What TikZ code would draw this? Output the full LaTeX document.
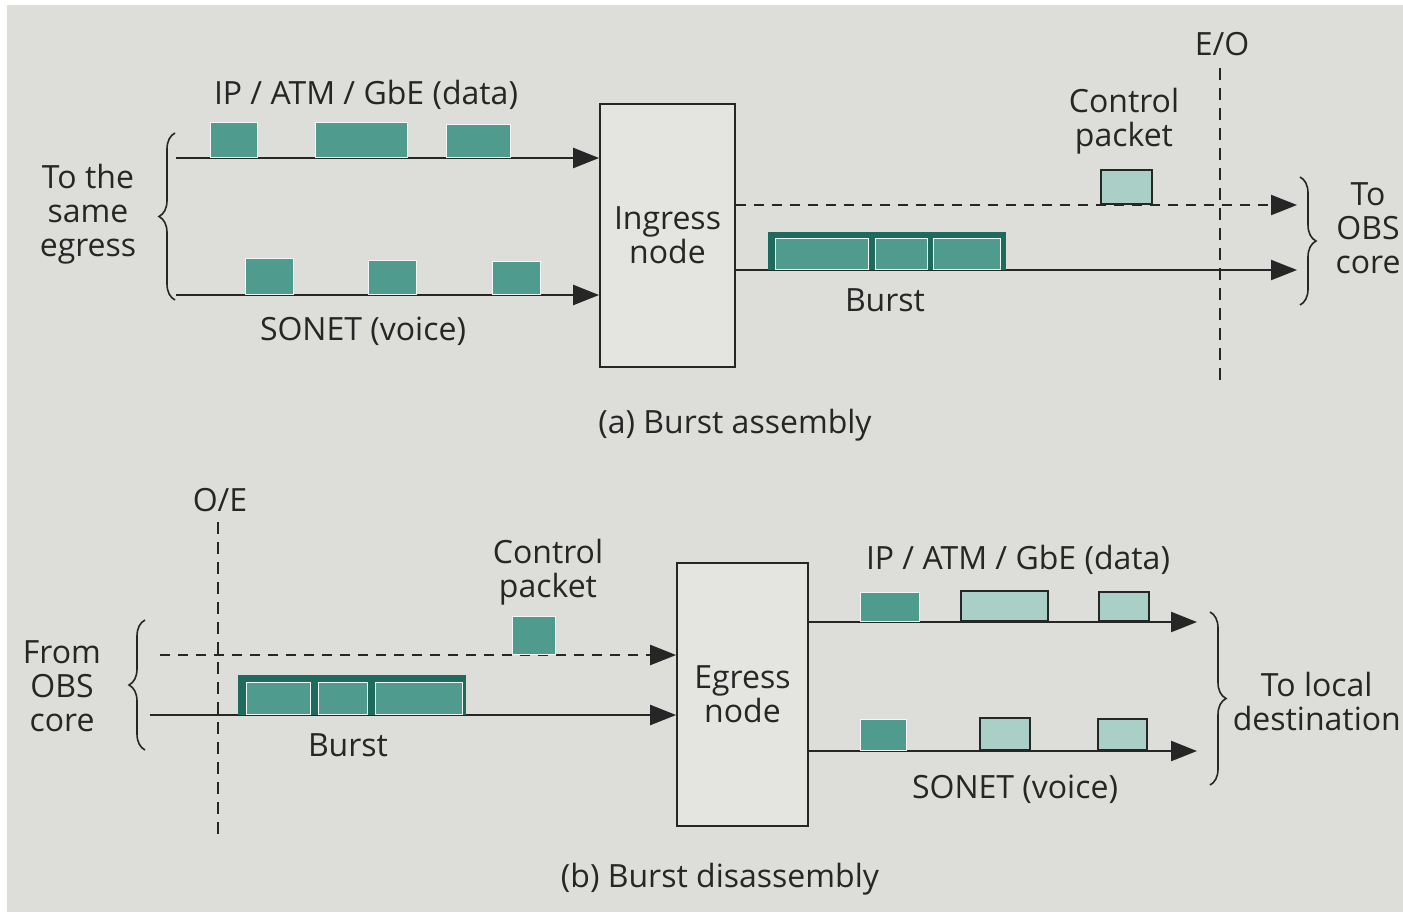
\documentclass[tikz,border=0pt]{standalone}
\usepackage{fontspec}
\setmainfont{Open Sans}
\usetikzlibrary{arrows.meta,decorations.pathreplacing}
\definecolor{bg}{HTML}{DDDDD9}
\definecolor{dkteal}{HTML}{4F9C8E}
\definecolor{frame}{HTML}{1E6B5E}
\definecolor{ltteal}{HTML}{AACFC7}
\definecolor{ink}{HTML}{262626}
\begin{document}
\begin{tikzpicture}[x=1pt,y=-1pt,
  txt/.style={font=\fontsize{32}{34}\selectfont, text=ink, align=center, inner sep=0pt},
  flow/.style={draw=ink, line width=2.4pt, -{Triangle[length=26pt,width=20pt]}},
  dflow/.style={flow, dash pattern=on 10pt off 8pt},
  wall/.style={draw=ink, line width=1.8pt, dash pattern=on 12pt off 8pt},
  nodebox/.style={draw=ink, line width=1.8pt, fill=bg!80!white, inner sep=0pt, txt},
  dpkt/.style={fill=dkteal, draw=white!75!bg, line width=1pt, inner sep=0pt, anchor=south west},
  lpkt/.style={fill=ltteal, draw=ink, line width=1.6pt, inner sep=0pt, anchor=south west},
  bframe/.style={fill=frame, draw=none, inner sep=0pt, anchor=south west},
  bcell/.style={fill=dkteal, draw=white!75!bg, line width=1.2pt, inner sep=0pt, anchor=south west},
  brace/.style={draw=ink, line width=1.6pt, decorate, decoration={brace, amplitude=16pt}}
]
\fill[white] (0,0) rectangle (1403,919);
\fill[bg] (7,5) rectangle (1403,912);
\useasboundingbox (0,0) rectangle (1403,919);

% ---------- (a) Burst assembly ----------
\node[nodebox, minimum width=135pt, minimum height=263pt] (ing) at (667.5,235.5) {Ingress\\node};

\coordinate (a1) at (176,158);
\coordinate (a2) at (176,295);
\draw[flow] (a1) -- (a1 -| ing.west);
\draw[flow] (a2) -- (a2 -| ing.west);

\node[dpkt, minimum width=47pt, minimum height=35pt] (d1) at (210,158) {};
\node[dpkt, minimum width=92pt, minimum height=35pt] (d2) at (315,158) {};
\node[dpkt, minimum width=64pt, minimum height=33pt] (d3) at (446,158) {};

\node[dpkt, minimum width=48pt, minimum height=36pt] (s1) at (245,295) {};
\node[dpkt, minimum width=48pt, minimum height=34pt] (s2) at (368,295) {};
\node[dpkt, minimum width=48pt, minimum height=33pt] (s3) at (492,295) {};

\node[txt] (tdata) at (366,95) {IP / ATM / GbE (data)};
\node[txt] (tson) at (363,331) {SONET (voice)};

\coordinate (lb1) at (175,300);
\coordinate (lb2) at (175,133);
\draw[brace] (lb1) -- (lb2);
\node[txt] (tsame) at (88,214) {To the\\same\\egress};

\coordinate (c1) at (1297,205);
\coordinate (b1) at (1297,270);
\draw[dflow] (c1 -| ing.east) -- (c1);
\draw[flow] (b1 -| ing.east) -- (b1);

\node[lpkt, minimum width=51pt, minimum height=34pt] (cp1) at (1100,205) {};

\node[bframe, minimum width=238pt, minimum height=38pt] (bf1) at (768,270) {};
\node[bcell, minimum width=93pt, minimum height=31pt] (bc11) at (775,270) {};
\node[bcell, minimum width=52pt, minimum height=31pt] (bc12) at (875,270) {};
\node[bcell, minimum width=67pt, minimum height=31pt] (bc13) at (933,270) {};

\node[txt] (tburst1) at (885,300) {Burst};
\node[txt] (tcp1) at (1124,121) {Control\\packet};

\coordinate (eo1) at (1220,68);
\coordinate (eo2) at (1220,380);
\draw[wall] (eo1) -- (eo2);
\node[txt] (teo) at (1222,44) {E/O};

\coordinate (rb1) at (1300,177);
\coordinate (rb2) at (1300,305);
\draw[brace] (rb1) -- (rb2);
\node[txt] (tobs1) at (1368,228) {To\\OBS\\core};

\node[txt] (capa) at (735,425) {(a) Burst assembly};

% ---------- (b) Burst disassembly ----------
\node[nodebox, minimum width=131pt, minimum height=263pt] (egr) at (742.5,694.5) {Egress\\node};

\coordinate (oe1) at (218,522);
\coordinate (oe2) at (218,835);
\draw[wall] (oe1) -- (oe2);
\node[txt] (toe) at (220,500) {O/E};

\coordinate (f1) at (160,655);
\coordinate (f2) at (150,715);
\draw[dflow] (f1) -- (f1 -| egr.west);
\draw[flow] (f2) -- (f2 -| egr.west);

\node[dpkt, minimum width=43pt, minimum height=38pt] (cp2) at (512,655) {};

\node[bframe, minimum width=228pt, minimum height=40pt] (bf2) at (238,715) {};
\node[bcell, minimum width=64pt, minimum height=32pt] (bc21) at (246,715) {};
\node[bcell, minimum width=49pt, minimum height=32pt] (bc22) at (318,715) {};
\node[bcell, minimum width=87pt, minimum height=32pt] (bc23) at (375,715) {};

\node[txt] (tburst2) at (348,745) {Burst};
\node[txt] (tcp2) at (548,572) {Control\\packet};

\coordinate (lb3) at (145,750);
\coordinate (lb4) at (145,620);
\draw[brace] (lb3) -- (lb4);
\node[txt] (tfrom) at (62,686) {From\\OBS\\core};

\coordinate (o1) at (1197,622);
\coordinate (o2) at (1197,751);
\draw[flow] (o1 -| egr.east) -- (o1);
\draw[flow] (o2 -| egr.east) -- (o2);

\node[dpkt, minimum width=59pt, minimum height=29pt] (e1) at (860,622) {};
\node[lpkt, minimum width=87pt, minimum height=30pt] (e2) at (960,622) {};
\node[lpkt, minimum width=50pt, minimum height=29pt] (e3) at (1098,622) {};

\node[dpkt, minimum width=46pt, minimum height=31pt] (v1) at (860,751) {};
\node[lpkt, minimum width=50pt, minimum height=32pt] (v2) at (979,751) {};
\node[lpkt, minimum width=49pt, minimum height=31pt] (v3) at (1097,751) {};

\node[txt] (tdata2) at (1018,560) {IP / ATM / GbE (data)};
\node[txt] (tson2) at (1015,789) {SONET (voice)};

\coordinate (rb3) at (1210,612);
\coordinate (rb4) at (1210,785);
\draw[brace] (rb3) -- (rb4);
\node[txt, anchor=east] (tlocal) at (1401,701) {To local\\destination};

\node[txt] (capb) at (720,879) {(b) Burst disassembly};
\end{tikzpicture}
\end{document}
